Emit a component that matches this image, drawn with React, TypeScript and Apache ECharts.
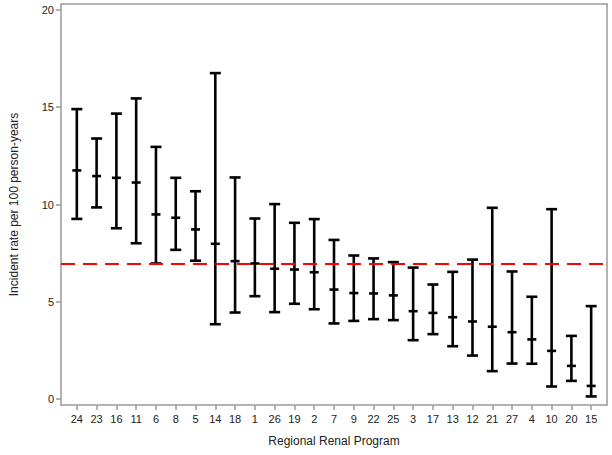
import React, { useEffect, useRef } from "react";
import * as echarts from "echarts";

const categories = ["24", "23", "16", "11", "6", "8", "5", "14", "18", "1", "26", "19", "2", "7", "9", "22", "25", "3", "17", "13", "12", "21", "27", "4", "10", "20", "15"];
const midValues = [11.75, 11.46, 11.37, 11.13, 9.49, 9.32, 8.72, 7.98, 7.09, 6.97, 6.7, 6.66, 6.52, 5.63, 5.45, 5.43, 5.33, 4.52, 4.43, 4.21, 3.99, 3.72, 3.44, 3.07, 2.48, 1.71, 0.68];
const lowValues = [9.26, 9.85, 8.78, 8.01, 6.97, 7.67, 7.11, 3.85, 4.45, 5.29, 4.47, 4.9, 4.62, 3.89, 4.02, 4.11, 4.06, 3.03, 3.34, 2.72, 2.24, 1.44, 1.83, 1.82, 0.65, 0.94, 0.14];
const highValues = [14.9, 13.39, 14.67, 15.45, 12.96, 11.37, 10.68, 16.75, 11.39, 9.28, 10.02, 9.06, 9.25, 8.18, 7.38, 7.23, 7.04, 6.76, 5.89, 6.54, 7.17, 9.83, 6.56, 5.26, 9.76, 3.25, 4.78];
const overallRate = 6.95;
const yTicks = [0, 5, 10, 15, 20];

export default function App() {
  const ref = useRef<HTMLDivElement>(null);
  useEffect(() => {
    document.body.style.margin = "0";
    const chart = echarts.init(ref.current!, null, { renderer: "svg" });
    const data = categories.map((_, i) => [i, lowValues[i], midValues[i], highValues[i]]);
    const font = "Liberation Sans, Arial, sans-serif";
    const frame = "#9a9a9a";
    const xMin = -0.8, xMax = 26.8, yMin = -0.3, yMax = 20.3;
    const frameAxis = {
      type: "value",
      axisLine: { show: true, onZero: false, lineStyle: { color: frame, width: 1.5 } },
      axisTick: { show: false },
      axisLabel: { show: false },
      splitLine: { show: false },
    };
    chart.setOption({
      animation: false,
      grid: { left: 55, right: 5, top: 4, bottom: 50 },
      xAxis: [
        {
          type: "value",
          min: xMin,
          max: xMax,
          name: "Regional Renal Program",
          nameLocation: "middle",
          nameGap: 30,
          nameTextStyle: { fontFamily: font, fontSize: 12, color: "#222" },
          axisLine: { show: true, onZero: false, lineStyle: { color: frame, width: 1.5 } },
          splitLine: { show: false },
          axisTick: { show: true, length: 5, lineStyle: { color: frame, width: 1.5 }, customValues: categories.map((_, i) => i) },
          axisLabel: {
            customValues: categories.map((_, i) => i),
            formatter: (v: number) => categories[Math.round(v)] ?? "",
            fontFamily: font,
            fontSize: 11,
            color: "#222",
            margin: 8,
          },
        },
        { ...frameAxis, position: "top", min: xMin, max: xMax },
      ],
      yAxis: [
        {
          type: "value",
          min: yMin,
          max: yMax,
          name: "Incident rate per 100 person-years",
          nameLocation: "middle",
          nameGap: 41,
          nameTextStyle: { fontFamily: font, fontSize: 12, color: "#222" },
          axisLine: { show: true, onZero: false, lineStyle: { color: frame, width: 1.5 } },
          splitLine: { show: false },
          axisTick: { show: true, length: 5, lineStyle: { color: frame, width: 1.5 }, customValues: yTicks },
          axisLabel: { customValues: yTicks, fontFamily: font, fontSize: 11, color: "#222", margin: 7 },
        },
        { ...frameAxis, position: "right", min: yMin, max: yMax },
      ],
      series: [
        {
          type: "custom",
          data,
          xAxisIndex: 0,
          yAxisIndex: 0,
          encode: { x: 0, y: [1, 2, 3] },
          renderItem: (params: any, api: any) => {
            const x = api.value(0);
            const lo = api.coord([x, api.value(1)]);
            const mid = api.coord([x, api.value(2)]);
            const hi = api.coord([x, api.value(3)]);
            const cap = 5.5;
            const style = { stroke: "#000", lineWidth: 2.6 };
            return {
              type: "group",
              children: [
                { type: "line", shape: { x1: hi[0], y1: hi[1], x2: lo[0], y2: lo[1] }, style },
                { type: "line", shape: { x1: hi[0] - cap, y1: hi[1], x2: hi[0] + cap, y2: hi[1] }, style },
                { type: "line", shape: { x1: lo[0] - cap, y1: lo[1], x2: lo[0] + cap, y2: lo[1] }, style },
                { type: "line", shape: { x1: mid[0] - 4.5, y1: mid[1], x2: mid[0] + 4.5, y2: mid[1] }, style },
              ],
            };
          },
          markLine: {
            silent: true,
            symbol: "none",
            label: { show: false },
            lineStyle: { color: "#ff0000", width: 2, type: [14, 8] },
            data: [{ yAxis: overallRate }],
          },
          z: 2,
        },
      ],
    });
    return () => chart.dispose();
  }, []);
  return <div ref={ref} style={{ width: 612, height: 455 }} />;
}
